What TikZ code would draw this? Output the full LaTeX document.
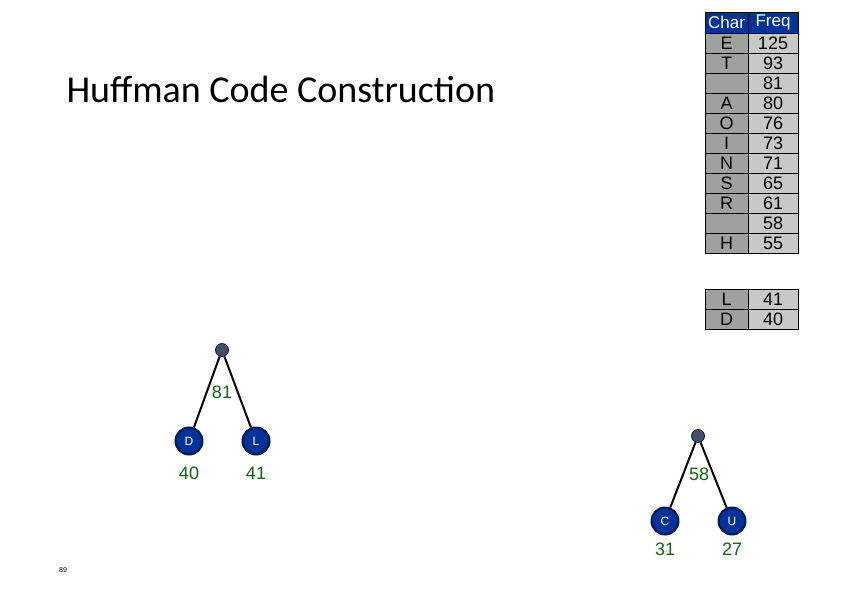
\documentclass[tikz,border=0pt]{standalone}
\usepackage{fontspec}
\setmainfont{Carlito}
\newfontfamily\tabfont{Liberation Sans}
\usepackage{xcolor}
\usetikzlibrary{positioning}
\definecolor{huff-blue}{RGB}{0, 51, 153}
\definecolor{huff-navy}{RGB}{0, 25, 80}
\definecolor{huff-green}{RGB}{20, 100, 20}
\definecolor{huff-dark}{RGB}{70, 80, 100}
\definecolor{cell-dark}{RGB}{160, 160, 160}
\definecolor{cell-light}{RGB}{200, 200, 200}

\begin{document}
\begin{tikzpicture}[
  x=1pt, y=-1pt,
  charcell/.style={rectangle, draw, fill=cell-dark, minimum width=43pt, minimum height=20pt, inner sep=0pt, font=\tabfont\fontsize{18}{20}\selectfont},
  freqcell/.style={rectangle, draw, fill=cell-light, minimum width=50pt, minimum height=20pt, inner sep=0pt, font=\tabfont\fontsize{18}{20}\selectfont},
  headcell/.style={rectangle, draw, fill=huff-blue, text=white, inner sep=0pt, minimum height=21pt, font=\tabfont\fontsize{17}{20}\selectfont},
  leaf/.style={circle, draw=huff-navy, line width=2pt, fill=huff-blue, text=white, minimum size=27pt, inner sep=0pt, font=\tabfont\fontsize{12}{13}\selectfont},
  inner/.style={circle, draw=huff-navy, line width=0.8pt, fill=huff-dark, minimum size=13pt, inner sep=0pt},
  weight/.style={text=huff-green, font=\tabfont\fontsize{18}{20}\selectfont},
  edge/.style={line width=2pt}
]
  \useasboundingbox (0,0) rectangle (842,595);

  \node[anchor=west, font=\fontsize{38}{42}\selectfont] (title) at (63,89) {Huffman Code Construction};

  % frequency table
  \node[headcell, minimum width=43pt] (hchar) at (726.5,22.5) {Char};
  \node[headcell, minimum width=50pt] (hfreq) at (773,22.5) {Freq};
  \foreach \c/\f [count=\i] in {E/125, T/93, /81, A/80, O/76, I/73, N/71, S/65, R/61, /58, H/55} {
    \node[charcell] (c\i) at (726.5,23+20*\i) {\c};
    \node[freqcell] (f\i) at (773,23+20*\i) {\f};
  }

  \node[charcell] (cl) at (726.5,299) {L};
  \node[freqcell] (fl) at (773,299) {41};
  \node[charcell] (cd) at (726.5,319) {D};
  \node[freqcell] (fd) at (773,319) {40};

  % tree for 81
  \node[inner] (n81) at (222,350) {};
  \node[leaf] (d) at (189,441) {D};
  \node[leaf] (l) at (256,441) {L};
  \draw[edge] (n81) -- (d);
  \draw[edge] (n81) -- (l);
  \node[weight] (w81) at (222,392) {81};
  \node[weight] (w40) at (189,473) {40};
  \node[weight] (w41) at (256,473) {41};

  % tree for 58
  \node[inner] (n58) at (698,436) {};
  \node[leaf] (c) at (665,521) {C};
  \node[leaf] (u) at (732,521) {U};
  \draw[edge] (n58) -- (c);
  \draw[edge] (n58) -- (u);
  \node[weight] (w58) at (699,474) {58};
  \node[weight] (w31) at (665,549) {31};
  \node[weight] (w27) at (732,549) {27};

  \node[font=\tabfont\fontsize{7}{8}\selectfont] (page) at (63,570) {89};
\end{tikzpicture}
\end{document}
